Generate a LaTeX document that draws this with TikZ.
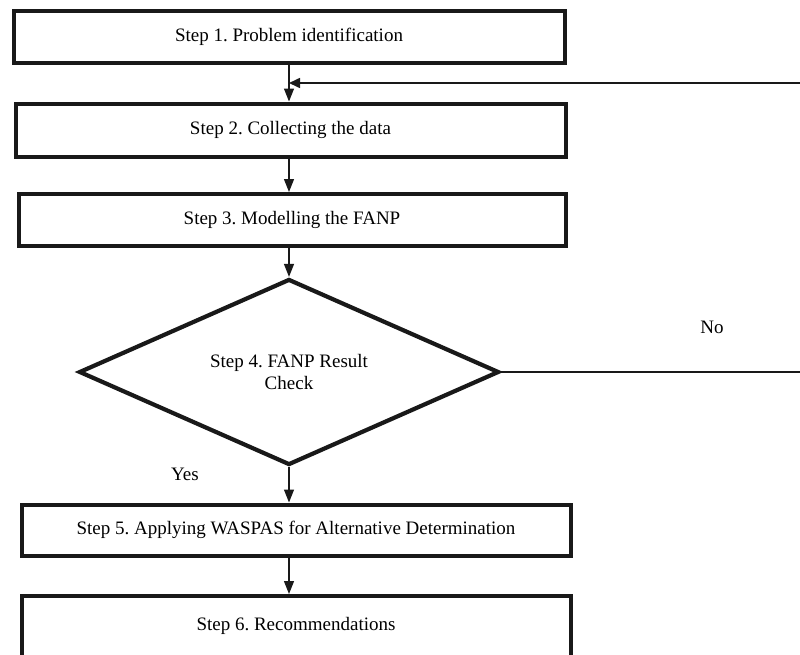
\documentclass[tikz,border=0pt]{standalone}
\usepackage{fontspec}
\setmainfont{Liberation Serif}
\usetikzlibrary{shapes.geometric,arrows.meta}
\frenchspacing
\begin{document}
\begin{tikzpicture}[x=1pt,y=-1pt,
  stepbox/.style={draw=black!90,line width=4pt,rectangle,inner sep=0pt,font=\fontsize{19}{22}\selectfont},
  decbox/.style={draw=black!90,line width=4.2pt,diamond,inner sep=0pt,aspect=2.25,font=\fontsize{19}{22}\selectfont,align=center},
  conn/.style={draw=black!90,line width=1.3pt,-{Triangle[length=13pt,width=10pt]}},
  lbl/.style={font=\fontsize{19}{22}\selectfont,inner sep=0pt}]
\useasboundingbox (0,0) rectangle (800,654);
\clip (0,0) rectangle (800,654);
\node[stepbox,minimum width=551pt,minimum height=52pt] (s1) at (289,37) {Step 1. Problem identification};
\node[stepbox,minimum width=550pt,minimum height=53pt] (s2) at (290.5,130) {Step 2. Collecting the data};
\node[stepbox,minimum width=547pt,minimum height=52pt] (s3) at (292,220) {Step 3. Modelling the FANP};
\node[decbox,minimum width=420pt,minimum height=186pt] (s4) at (289,372) {Step 4. FANP Result\\Check};
\node[stepbox,minimum width=549pt,minimum height=51pt] (s5) at (296,530) {Step 5. Applying WASPAS for Alternative Determination};
\node[stepbox,anchor=north,minimum width=549pt,inner ysep=0pt,text height=34pt,text depth=40pt] (s6) at (296,594) {Step 6. Recommendations};
\node[lbl] (no) at (712,327) {No};
\node[lbl] (yes) at (185,474) {Yes};
\coordinate (j) at (s4.north |- 0,83);
\coordinate (r) at (s4.east -| 806,0);
\draw[conn] (s4.north |- s1.south) -- (s4.north |- s2.north);
\draw[conn] (s4.north |- s2.south) -- (s4.north |- s3.north);
\draw[conn] (s4.north |- s3.south) -- (s4.north);
\draw[conn] (s4.south) -- (s4.south |- s5.north);
\draw[conn] (s4.south |- s5.south) -- (s4.south |- s6.north);
\draw[draw=black!90,line width=2.8pt] (s4.east) -- (r);
\draw[conn,line width=1.6pt,-{Triangle[length=11pt,width=10pt]}] (r) |- (j);
\end{tikzpicture}
\end{document}
